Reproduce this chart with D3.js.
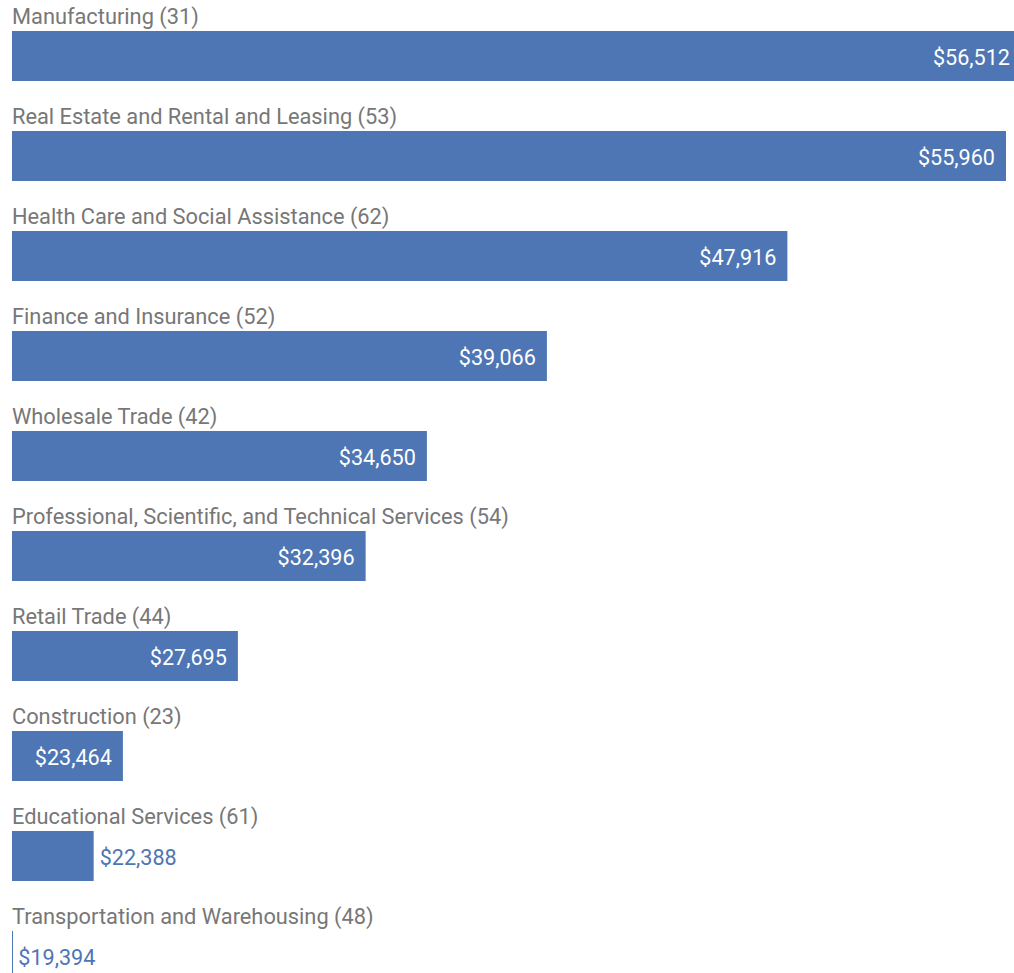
<!DOCTYPE html>
<html>
<head>
<meta charset="utf-8">
<script src="https://cdn.jsdelivr.net/npm/d3@7"></script>
<style>
  html, body { margin: 0; padding: 0; background: #fff; overflow: hidden; }
  svg { display: block; font-family: Roboto, "Noto Sans", sans-serif; }
</style>
</head>
<body>
<svg id="chart" width="1014" height="973"></svg>
<script>
// Average earnings by industry sector (NAICS code in parentheses)
const industries = [
  "Manufacturing",
  "Real Estate and Rental and Leasing",
  "Health Care and Social Assistance",
  "Finance and Insurance",
  "Wholesale Trade",
  "Professional, Scientific, and Technical Services",
  "Retail Trade",
  "Construction",
  "Educational Services",
  "Transportation and Warehousing"
];
const naicsCodes = [31, 53, 62, 52, 42, 54, 44, 23, 61, 48];
const earnings = [56512, 55960, 47916, 39066, 34650, 32396, 27695, 23464, 22388, 19394];

const rows = industries.map((name, i) => ({ name, code: naicsCodes[i], value: earnings[i] }));

const plotRight = 1021; // the widest bar runs slightly past the visible edge
const margin = { left: 12, top: 0 };
const rowStep = 100, barOffset = 31, barHeight = 50;
const barColor = "#4e75b4";

const svg = d3.select("#chart");

const x = d3.scaleLinear()
  .domain([19383, d3.max(earnings)])
  .range([margin.left, plotRight]);

const y = d3.scaleBand()
  .domain(rows.map(d => d.name))
  .range([margin.top, margin.top + rowStep * rows.length])
  .padding(0);

const fmt = v => "$" + d3.format(",")(v);
const x0 = x(x.domain()[0]);

const g = svg.selectAll("g.row")
  .data(rows)
  .join("g")
  .attr("class", "row")
  .attr("transform", d => `translate(0,${y(d.name)})`);

g.append("text")
  .attr("x", margin.left)
  .attr("y", 24)
  .attr("font-size", 21.8)
  .attr("fill", "#777")
  .text(d => `${d.name} (${d.code})`);

g.append("rect")
  .attr("x", x0)
  .attr("y", barOffset)
  .attr("width", d => Math.max(1, x(d.value) - x0))
  .attr("height", barHeight)
  .attr("fill", barColor);

g.append("text")
  .attr("font-size", 21.6)
  .attr("y", barOffset + barHeight / 2 + 1)
  .attr("dy", "0.35em")
  .text(d => fmt(d.value))
  .each(function(d) {
    const t = d3.select(this);
    const w = this.getComputedTextLength();
    const barW = x(d.value) - x0;
    if (w + 24 < barW) {
      t.attr("x", x(d.value) - 11).attr("text-anchor", "end").attr("fill", "#fff");
    } else {
      t.attr("x", x(d.value) + 6).attr("text-anchor", "start").attr("fill", barColor);
    }
  });
</script>
</body>
</html>
